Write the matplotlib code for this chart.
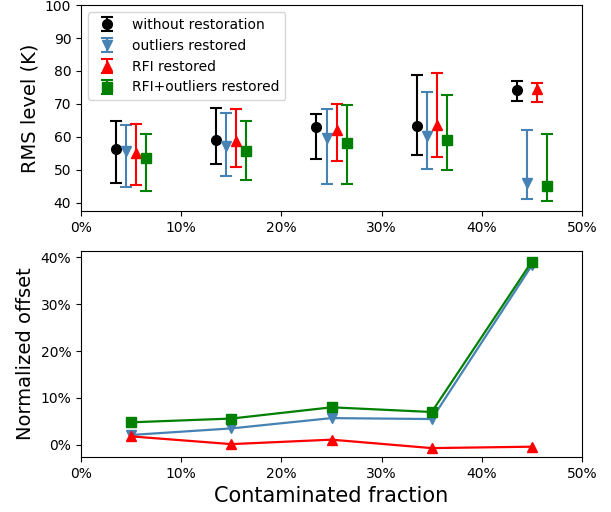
import numpy as np
import matplotlib
matplotlib.use('Agg')
from matplotlib import pyplot as plt
from matplotlib.ticker import PercentFormatter

# contaminated fraction
frac = [0.05, 0.15, 0.25, 0.35, 0.45]

# RMS level (K): centre, upper end, lower end of the error bars
rms_raw = [56.3, 59.0, 62.9, 63.3, 74.2]
rms_raw_hi = [64.7, 68.9, 66.8, 78.8, 77.0]
rms_raw_lo = [46.0, 51.7, 53.3, 54.5, 70.8]

rms_out = [55.7, 57.3, 59.8, 60.2, 45.9]
rms_out_hi = [63.6, 67.3, 68.4, 73.5, 62.1]
rms_out_lo = [44.9, 48.2, 45.8, 50.3, 41.0]

rms_rfi = [55.2, 58.7, 62.0, 63.5, 74.5]
rms_rfi_hi = [63.8, 68.4, 70.1, 79.5, 76.2]
rms_rfi_lo = [45.3, 50.7, 52.6, 53.9, 70.5]

rms_both = [53.6, 55.8, 58.0, 59.0, 45.1]
rms_both_hi = [61.0, 64.9, 69.6, 72.6, 60.9]
rms_both_lo = [43.6, 46.8, 45.8, 49.9, 40.4]

# normalized offset (fraction)
off_out = [0.021, 0.035, 0.057, 0.055, 0.383]
off_rfi = [0.018, 0.0015, 0.011, -0.007, -0.004]
off_both = [0.048, 0.056, 0.080, 0.070, 0.391]

labels = ['without restoration', 'outliers restored', 'RFI restored', 'RFI+outliers restored']
colors = ['black', 'steelblue', 'red', 'green']
markers = ['o', 'v', '^', 's']
shifts = [-0.015, -0.005, 0.005, 0.015]

fig = plt.figure(figsize=(6.11, 5.12), dpi=100)
ax1 = fig.add_axes([0.1326, 0.588, 0.820, 0.402])
ax2 = fig.add_axes([0.1326, 0.1074, 0.820, 0.402])

series = [(rms_raw, rms_raw_hi, rms_raw_lo),
          (rms_out, rms_out_hi, rms_out_lo),
          (rms_rfi, rms_rfi_hi, rms_rfi_lo),
          (rms_both, rms_both_hi, rms_both_lo)]
x = np.array(frac)
for i in range(4):
    c, hi, lo = [np.array(v) for v in series[i]]
    yerr = [c - lo, hi - c]
    ax1.errorbar(x + shifts[i], c, yerr=yerr, fmt=markers[i], color=colors[i],
                 ms=7, capsize=4, elinewidth=1.5, capthick=1.5, label=labels[i])
ax1.set_xlim(0, 0.5)
ax1.set_ylim(37.5, 100)
ax1.set_ylabel('RMS level (K)', fontsize=14)
ax1.xaxis.set_major_formatter(PercentFormatter(1, decimals=0))
ax1.legend(loc='upper left', fontsize=10)

ax2.plot(x, off_out, marker='v', color='steelblue', ms=7, lw=1.6)
ax2.plot(x, off_rfi, marker='^', color='red', ms=7, lw=1.6)
ax2.plot(x, off_both, marker='s', color='green', ms=7, lw=1.6)
ax2.set_xlim(0, 0.5)
ax2.set_ylim(-0.026, 0.413)
ax2.xaxis.set_major_formatter(PercentFormatter(1, decimals=0))
ax2.yaxis.set_major_formatter(PercentFormatter(1, decimals=0))
ax2.set_yticks([0, 0.1, 0.2, 0.3, 0.4])
ax2.set_ylabel('Normalized offset', fontsize=14)
ax2.set_xlabel('Contaminated fraction', fontsize=15)

plt.savefig('out.png', dpi=100)
